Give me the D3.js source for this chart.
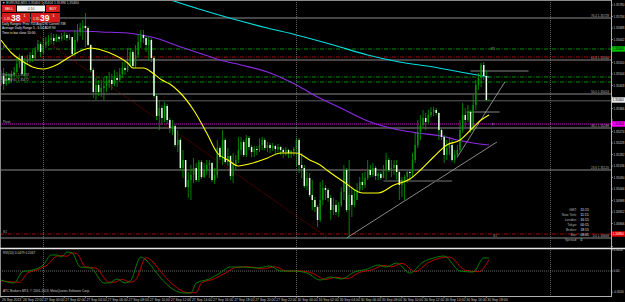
<!DOCTYPE html>
<html><head><meta charset="utf-8">
<script src="https://cdn.jsdelivr.net/npm/d3@7"></script>
<style>html,body{margin:0;padding:0;background:#000;overflow:hidden}svg{display:block}text{font-family:"Liberation Sans",Arial,sans-serif}</style>
</head><body><svg id="c" width="625" height="302"></svg>
<script>
// ---------- DATA (EURUSD M15, 26 Sep 20:00 -> 30 Sep 18:15) ----------
const firstOpen = 1.35480;
const closes = [1.35496,1.35464,1.35488,1.35480,1.35504,1.35512,1.35544,1.35576,1.35504,1.35552,
1.35560,1.35580,1.35568,1.35600,1.35624,1.35592,1.35620,1.35632,1.35640,1.35648,
1.35636,1.35652,1.35644,1.35656,1.35660,1.35648,1.35652,1.35584,1.35640,1.35672,
1.35688,1.35696,1.35688,1.35620,1.35520,1.35432,1.35460,1.35432,1.35448,1.35456,
1.35468,1.35480,1.35464,1.35488,1.35480,1.35504,1.35528,1.35520,1.35536,1.35592,
1.35536,1.35580,1.35632,1.35660,1.35648,1.35620,1.35640,1.35568,1.35416,1.35336,
1.35368,1.35328,1.35376,1.35320,1.35288,1.35296,1.35220,1.35240,1.35128,1.35160,
1.35052,1.35080,1.35100,1.35128,1.35080,1.35152,1.35092,1.35120,1.35140,1.35148,
1.35080,1.35100,1.35208,1.35172,1.35240,1.35152,1.35176,1.35096,1.35140,1.35160,
1.35200,1.35232,1.35180,1.35248,1.35212,1.35192,1.35204,1.35200,1.35220,1.35240,
1.35208,1.35220,1.35208,1.35216,1.35204,1.35212,1.35200,1.35192,1.35200,1.35188,
1.35196,1.35204,1.35240,1.35140,1.35128,1.35056,1.35088,1.35020,1.35000,1.34972,
1.34920,1.35000,1.35048,1.35040,1.35008,1.34960,1.34980,1.34952,1.34980,1.35032,
1.35120,1.34960,1.35020,1.34980,1.35000,1.35040,1.35072,1.35060,1.35088,1.35120,
1.35100,1.35128,1.35096,1.35104,1.35088,1.35120,1.35160,1.35120,1.35128,1.35140,
1.35112,1.35060,1.35080,1.35092,1.35112,1.35108,1.35160,1.35220,1.35272,1.35300,
1.35328,1.35312,1.35340,1.35352,1.35360,1.35348,1.35280,1.35252,1.35180,1.35208,
1.35220,1.35160,1.35180,1.35200,1.35280,1.35340,1.35320,1.35352,1.35280,1.35380,
1.35460,1.35488,1.35540,1.35496,1.35400,1.35400];
const highs = [1.35520,1.35528,1.35512,1.35504,1.35516,1.35532,1.35568,1.35584,1.35580,1.35568,
1.35580,1.35592,1.35600,1.35612,1.35640,1.35632,1.35648,1.35652,1.35660,1.35668,
1.35664,1.35664,1.35660,1.35668,1.35672,1.35668,1.35664,1.35652,1.35680,1.35704,
1.35708,1.35720,1.35748,1.35696,1.35624,1.35528,1.35488,1.35480,1.35480,1.35492,
1.35496,1.35512,1.35504,1.35520,1.35512,1.35528,1.35552,1.35560,1.35608,1.35608,
1.35600,1.35620,1.35664,1.35680,1.35680,1.35656,1.35652,1.35648,1.35576,1.35424,
1.35400,1.35380,1.35392,1.35384,1.35328,1.35320,1.35304,1.35280,1.35248,1.35200,
1.35160,1.35112,1.35140,1.35168,1.35148,1.35160,1.35160,1.35148,1.35160,1.35160,
1.35152,1.35128,1.35240,1.35216,1.35280,1.35248,1.35208,1.35180,1.35188,1.35180,
1.35252,1.35252,1.35240,1.35260,1.35256,1.35220,1.35216,1.35216,1.35248,1.35252,
1.35248,1.35232,1.35228,1.35228,1.35220,1.35224,1.35216,1.35208,1.35212,1.35204,
1.35200,1.35212,1.35248,1.35248,1.35188,1.35140,1.35112,1.35108,1.35080,1.35012,
1.34980,1.35072,1.35080,1.35060,1.35048,1.35020,1.35008,1.35000,1.34992,1.35052,
1.35140,1.35128,1.35160,1.35052,1.35040,1.35068,1.35092,1.35108,1.35112,1.35160,
1.35140,1.35148,1.35136,1.35112,1.35112,1.35140,1.35188,1.35168,1.35160,1.35160,
1.35160,1.35120,1.35092,1.35100,1.35120,1.35120,1.35188,1.35268,1.35320,1.35340,
1.35360,1.35348,1.35360,1.35372,1.35372,1.35368,1.35352,1.35288,1.35260,1.35240,
1.35252,1.35240,1.35200,1.35220,1.35320,1.35388,1.35368,1.35380,1.35360,1.35420,
1.35480,1.35508,1.35548,1.35552,1.35520,1.35404];
const lows = [1.35456,1.35440,1.35456,1.35464,1.35472,1.35492,1.35508,1.35528,1.35500,1.35496,
1.35540,1.35548,1.35552,1.35560,1.35592,1.35572,1.35584,1.35608,1.35616,1.35624,
1.35620,1.35632,1.35632,1.35636,1.35640,1.35636,1.35640,1.35576,1.35576,1.35632,
1.35656,1.35640,1.35612,1.35616,1.35512,1.35408,1.35400,1.35416,1.35412,1.35400,
1.35432,1.35448,1.35440,1.35456,1.35452,1.35472,1.35488,1.35500,1.35512,1.35536,
1.35528,1.35528,1.35568,1.35608,1.35628,1.35592,1.35560,1.35552,1.35408,1.35320,
1.35280,1.35300,1.35312,1.35304,1.35268,1.35260,1.35212,1.35192,1.35120,1.35088,
1.35048,1.35008,1.35000,1.35068,1.35072,1.35072,1.35084,1.35088,1.35100,1.35088,
1.35072,1.35064,1.35088,1.35160,1.35140,1.35144,1.35136,1.35080,1.35068,1.35120,
1.35148,1.35180,1.35172,1.35172,1.35200,1.35172,1.35172,1.35180,1.35192,1.35200,
1.35200,1.35192,1.35188,1.35196,1.35184,1.35192,1.35180,1.35168,1.35176,1.35168,
1.35168,1.35176,1.35132,1.35108,1.35088,1.35048,1.35040,1.35012,1.34960,1.34952,
1.34892,1.34912,1.34980,1.35000,1.34992,1.34920,1.34940,1.34940,1.34932,1.34972,
1.35000,1.34952,1.34848,1.34932,1.34972,1.35000,1.35028,1.35040,1.35048,1.35080,
1.35092,1.35092,1.35080,1.35080,1.35080,1.35088,1.35080,1.35112,1.35092,1.35100,
1.35080,1.35000,1.35012,1.35000,1.35068,1.35080,1.35088,1.35148,1.35208,1.35240,
1.35288,1.35280,1.35300,1.35332,1.35336,1.35340,1.35240,1.35240,1.35148,1.35160,
1.35180,1.35152,1.35148,1.35168,1.35192,1.35268,1.35292,1.35312,1.35268,1.35272,
1.35360,1.35440,1.35452,1.35480,1.35396,1.35396];

const timeLabelBars = [0,8,16,24,32,40,48,56,64,72,80,88,96,104,112,120,128,136,144,152,160,168,176,184];
const timeLabels = ["26 Sep 2013","26 Sep 22:00","27 Sep 00:00","27 Sep 02:00","27 Sep 04:00","27 Sep 06:00","27 Sep 08:00","27 Sep 10:00","27 Sep 12:00","27 Sep 14:00","27 Sep 16:00","27 Sep 18:00","27 Sep 20:00","27 Sep 22:00","30 Sep 00:00","30 Sep 02:00","30 Sep 04:00","30 Sep 06:00","30 Sep 08:00","30 Sep 10:00","30 Sep 12:00","30 Sep 14:00","30 Sep 16:00","30 Sep 18:00"];
const daySeparatorBars = [16,112,208];
const priceTicks = [1.35780,1.35734,1.35688,1.35642,1.35596,1.35550,1.35504,1.35458,1.35412,1.35366,1.35320,1.35274,1.35228,1.35182,1.35136,1.35090,1.35044,1.34998,1.34952,1.34906,1.34860,1.34814];

// moving averages (read at sampled bars)
const yellowBars = [0,4,8,12,16,21,26,31,34,38,43,48,50,54,58,61,64,68,73,78,82,86,90,94,101,106,112,117,121,124,130,137,143,149,155,159,164,169,174,178,182,185];
const yellowVals = [1.35640,1.35588,1.35556,1.35532,1.35524,1.35540,1.35572,1.35600,1.35608,1.35600,1.35580,1.35548,1.35528,1.35528,1.35504,1.35480,1.35464,1.35428,1.35360,1.35268,1.35188,1.35160,1.35136,1.35144,1.35168,1.35188,1.35188,1.35160,1.35140,1.35116,1.35072,1.35028,1.35028,1.35060,1.35084,1.35120,1.35172,1.35220,1.35240,1.35280,1.35320,1.35340];
const purpleBars = [21,30,38,48,57,61,64,75,83,91,101,112,120,128,139,151,158,167,173,179,185];
const purpleVals = [1.35676,1.35676,1.35672,1.35668,1.35652,1.35640,1.35628,1.35588,1.35560,1.35540,1.35512,1.35460,1.35412,1.35372,1.35316,1.35280,1.35268,1.35256,1.35240,1.35228,1.35220];
const cyanBars = [62,75,88,101,112,126,139,151,164,174,185];
const cyanVals = [1.35808,1.35764,1.35724,1.35688,1.35660,1.35620,1.35580,1.35552,1.35532,1.35512,1.35492];

// Fibonacci retracement
const fibLevels = [0.0,23.6,38.2,50.0,61.8,76.4];
const fibPrices = [1.34848,1.35120,1.35288,1.35424,1.35560,1.35728];
// pivot lines
const pivotNames = ["R1","MR","WR","WS","P","S1"];
const pivotPrices = [1.35604,1.35572,1.35492,1.35472,1.35304,1.34864];
// drawn trend lines [bar, price]
const trendUp1 = [[131,1.34848],[188,1.35232]];
const trendUp2 = [[173,1.35172],[191,1.35472]];
const trendDown = [[12,1.35672],[124,1.34848]];
const hSeg1 = [[178,1.35516],[200,1.35516]];
const hSeg2 = [[176.5,1.35352],[189,1.35352]];
const hSeg3 = [[145,1.35076],[171,1.35076]];

// RVI indicator
const rviBars = [0,5,8,12,16,19,21,23,25,27,30,34,39,41,44,47,49,53,55,59,64,69,72,74,79,83,87,92,97,102,106,111,116,121,125,129,134,139,143,146,150,155,160,164,168,174,179,183,185];
const rviVals = [-0.129,-0.171,-0.014,0.014,0.086,0.229,0.229,0.200,0.271,0.257,0.057,0.043,-0.171,-0.171,-0.114,-0.171,-0.143,0.200,0.157,-0.029,-0.229,-0.314,-0.314,-0.171,-0.114,-0.029,0.057,0.057,0.043,0.071,0.000,0.000,-0.029,-0.129,-0.086,-0.114,-0.014,0.029,0.086,0.057,0.114,-0.029,0.129,0.186,0.214,0.000,-0.014,0.186,0.186];
const sigBars = [0,2,7,10,14,18,21,23,25,27,29,32,36,41,43,46,49,51,55,57,61,66,71,74,76,81,85,89,94,99,104,108,113,118,123,127,131,136,141,145,148,152,157,162,166,170,176,181,185];
const sigVals = [-0.14,-0.15,-0.16,-0.03,0.02,0.10,0.21,0.22,0.21,0.26,0.24,0.06,0.04,-0.16,-0.16,-0.12,-0.16,-0.13,0.19,0.15,-0.03,-0.22,-0.31,-0.31,-0.17,-0.11,-0.03,0.05,0.06,0.03,0.06,0.00,0.00,-0.03,-0.12,-0.09,-0.11,-0.02,0.02,0.08,0.06,0.11,-0.01,0.12,0.18,0.20,0.01,-0.01,0.16];
const rviAxisVals = [0.3020,0,-0.3020];

// info panel
const infoLabels = ["GMT:","New York:","London:","Tokyo:","Broker:","Bar:","Spread:"];
const infoValues = ["15:15","11:15","16:15","00:15","18:15","08:05","0"];

// ---------- DRAW ----------
const svg = d3.select("#c");
svg.append("rect").attr("width",625).attr("height",302).attr("fill","#000");
const AX = 611, MAIN_B = 247, IND_T = 249, IND_B = 296;
const x = d3.scaleLinear().domain([0,185]).range([1,489]);
const y = d3.scaleLinear().domain([1.34812,1.35800]).range([247,0]);
const yi = d3.scaleLinear().domain([-0.3,0.3]).range([292,250]);

const defs = svg.append("defs");
defs.append("clipPath").attr("id","cm").append("rect").attr("x",0).attr("y",0).attr("width",AX).attr("height",MAIN_B);
defs.append("clipPath").attr("id","ci").append("rect").attr("x",0).attr("y",IND_T).attr("width",AX).attr("height",IND_B-IND_T);

const main = svg.append("g").attr("clip-path","url(#cm)");
const ind = svg.append("g").attr("clip-path","url(#ci)");

// vertical day separators
svg.selectAll(".sep").data(daySeparatorBars).join("line")
  .attr("x1",d=>Math.round(x(d))+0.5).attr("x2",d=>Math.round(x(d))+0.5).attr("y1",0).attr("y2",IND_B)
  .attr("stroke","#7a7a7a").attr("stroke-width",0.8).attr("stroke-dasharray","1,1");

// fib lines
main.selectAll(".fib").data(fibPrices).join("line")
  .attr("x1",0).attr("x2",AX).attr("y1",d=>y(d)).attr("y2",d=>y(d))
  .attr("stroke","#9a9a9a").attr("stroke-width",0.9);
main.selectAll(".fibt").data(fibPrices).join("text")
  .attr("x",609).attr("y",d=>y(d)-0.8).attr("text-anchor","end")
  .attr("font-size",3.1).attr("fill","#b8b8b8")
  .text((d,i)=>fibLevels[i].toFixed(1)+" "+d.toFixed(5));

// pivot lines
const pivStyle = {
  R1:{c:"#008c00",dash:"4,1.5,1,1.5"}, MR:{c:"#a80000",dash:"4,1.5,1,1.5"},
  WR:{c:"#008c00",dash:"4,1.5,1,1.5"}, WS:{c:"#008c00",dash:"4,1.5,1,1.5"},
  P:{c:"#d000d0",dash:"1,1"}, S1:{c:"#a80000",dash:"4,1.5,1,1.5"}};
main.selectAll(".piv").data(pivotPrices).join("line")
  .attr("x1",0).attr("x2",AX).attr("y1",d=>y(d)).attr("y2",d=>y(d))
  .attr("stroke",(d,i)=>pivStyle[pivotNames[i]].c).attr("stroke-width",1)
  .attr("stroke-dasharray",(d,i)=>pivStyle[pivotNames[i]].dash);

// bid line
const last = closes[closes.length-1];
main.append("line").attr("x1",0).attr("x2",AX).attr("y1",y(last)+0.8).attr("y2",y(last)+0.8)
  .attr("stroke","#6a6a6a").attr("stroke-width",0.9);

// trend lines
const seg = d3.line().x(d=>x(d[0])).y(d=>y(d[1]));
main.append("path").attr("d",seg(trendDown)).attr("stroke","#900000").attr("stroke-width",0.9).attr("stroke-dasharray","1,1.2").attr("fill","none");
[trendUp1,trendUp2,hSeg1,hSeg2].forEach(t=>main.append("path").attr("d",seg(t)).attr("stroke","#a8a8a8").attr("stroke-width",0.8).attr("fill","none"));
main.append("path").attr("d",seg(hSeg3)).attr("stroke","#505050").attr("stroke-width",1.3).attr("fill","none");

// moving averages
const ml = (bars)=>d3.line().x((d,i)=>x(bars[i])).y(d=>y(d)).curve(d3.curveMonotoneX);
main.append("path").attr("d",ml(cyanBars)(cyanVals)).attr("stroke","#00dede").attr("stroke-width",1.1).attr("fill","none");
main.append("path").attr("d",ml(purpleBars)(purpleVals)).attr("stroke","#8a2be2").attr("stroke-width",1.1).attr("fill","none");

// candles
const bars = closes.map((c,i)=>({i,o:i?closes[i-1]:firstOpen,c,h:highs[i],l:lows[i]}));
const cg = main.append("g");
cg.selectAll(".w").data(bars).join("line")
  .attr("x1",d=>x(d.i)).attr("x2",d=>x(d.i))
  .attr("y1",d=>y(Math.max(d.h,d.o,d.c))).attr("y2",d=>y(Math.min(d.l,d.o,d.c)))
  .attr("stroke","#00a000").attr("stroke-width",0.8);
cg.selectAll(".b").data(bars).join("rect")
  .attr("x",d=>x(d.i)-0.75).attr("width",1.5)
  .attr("y",d=>y(Math.max(d.o,d.c)))
  .attr("height",d=>Math.max(0.7,Math.abs(y(d.o)-y(d.c))))
  .attr("fill",d=>d.c<d.o?"#e6ffe6":"#009400");

// yellow MA on top
main.append("path").attr("d",ml(yellowBars)(yellowVals)).attr("stroke","#ffff00").attr("stroke-width",1.1).attr("fill","none");

// ---- text overlays main ----
const T = (g,xx,yy,s,fs,col,anchor)=>g.append("text").attr("x",xx).attr("y",yy).attr("font-size",fs).attr("fill",col).attr("text-anchor",anchor||"start").text(s);
T(svg,2,3.6,"\u25BC EURUSD,M15  1.35400 1.35404 1.35396 1.35400",3.3,"#d0d0d0");
// trade panel
const panel = svg.append("g");
panel.append("rect").attr("x",2).attr("y",5).attr("width",14).attr("height",7).attr("fill","#d21c1c");
panel.append("rect").attr("x",17).attr("y",5.5).attr("width",28).attr("height",6).attr("fill","#f4f4f4");
panel.append("rect").attr("x",46).attr("y",5).attr("width",14).attr("height",7).attr("fill","#d21c1c");
T(panel,9,10,"SELL",3.4,"#fff","middle");
T(panel,31,10,"0.10",3.4,"#333","middle");
T(panel,53,10,"BUY",3.4,"#fff","middle");
panel.append("rect").attr("x",2).attr("y",13).attr("width",28).attr("height",9.5).attr("fill","#d21c1c");
panel.append("rect").attr("x",31).attr("y",13).attr("width",29).attr("height",9.5).attr("fill","#d21c1c");
T(panel,4,20,"1.35",3.2,"#fff");
T(panel,11,21.3,"38",8.5,"#fff").attr("font-weight","bold");
T(panel,23.5,17,"1",3.6,"#fff");
T(panel,33,20,"1.35",3.2,"#fff");
T(panel,40,21.3,"39",8.5,"#fff").attr("font-weight","bold");
T(panel,52.5,17,"1",3.6,"#fff");
T(svg,2,25,"Daily Ranges: Prev 753  Avg5 96  Current 738",3.2,"#e0e0e0");
T(svg,2,29.3,"Average Daily Range 5 - 6.64  ADR 94",3.2,"#e0e0e0");
T(svg,2,33.6,"Time to bar close 10:00",3.2,"#e0e0e0");
T(svg,3,47.5,"R1",3.2,"#b0b0b0");
T(svg,2,76,"Weekly R1  1.35492",3.1,"#b0b0b0");
T(svg,2,81,"Weekly S1  1.35472",3.1,"#b0b0b0");
T(svg,3,122.5,"Pivot",3.2,"#b0b0b0");
T(svg,3,232.5,"S1",3.2,"#b0b0b0");
T(svg,491,50,"R1",3.2,"#a0a0a0");
T(svg,492,126,"P",3.2,"#a0a0a0");
T(svg,493,236.5,"S1",3.2,"#a0a0a0");

// info panel
infoLabels.forEach((s,i)=>{
  T(svg,577,211+i*5,s,3.4,"#b0b0b0","end");
  T(svg,580.5,211+i*5,infoValues[i],3.3,"#d8e8ff");
});

// ---- indicator pane ----
ind.append("line").attr("x1",0).attr("x2",AX).attr("y1",yi(0)).attr("y2",yi(0))
  .attr("stroke","#808080").attr("stroke-width",0.8).attr("stroke-dasharray","1,1");
const il = (b)=>d3.line().x((d,i)=>x(b[i])).y(d=>yi(d)).curve(d3.curveMonotoneX);
ind.append("path").attr("d",il(sigBars)(sigVals)).attr("stroke","#d00000").attr("stroke-width",0.9).attr("fill","none");
ind.append("path").attr("d",il(rviBars)(rviVals)).attr("stroke","#008c00").attr("stroke-width",0.9).attr("fill","none");
T(svg,3,253.5,"RVI(10) 0.0479 0.2067",3.2,"#c8c8c8");
T(svg,3,292,"ATC Brokers MT4, \u00A9 2001-2013, MetaQuotes Software Corp.",3.2,"#c8c8c8");

// ---- frames ----
svg.append("line").attr("x1",0.5).attr("x2",0.5).attr("y1",0).attr("y2",IND_B).attr("stroke","#8a8a8a").attr("stroke-width",1);
svg.append("line").attr("x1",0).attr("x2",AX).attr("y1",0.5).attr("y2",0.5).attr("stroke","#8a8a8a").attr("stroke-width",1);
svg.append("line").attr("x1",AX+0.5).attr("x2",AX+0.5).attr("y1",0).attr("y2",IND_B).attr("stroke","#b0b0b0").attr("stroke-width",1);
svg.append("line").attr("x1",0).attr("x2",625).attr("y1",248.5).attr("y2",248.5).attr("stroke","#e8e8e8").attr("stroke-width",1.3);
svg.append("line").attr("x1",0).attr("x2",AX+1).attr("y1",IND_B+0.5).attr("y2",IND_B+0.5).attr("stroke","#b0b0b0").attr("stroke-width",1);

// price axis
const tags = [
  {p:pivotPrices[0],bg:"#00c000",fg:"#000"},
  {p:last,bg:"#e8e8e8",fg:"#000"},
  {p:pivotPrices[4],bg:"#ff00ff",fg:"#000"},
  {p:pivotPrices[5],bg:"#e00000",fg:"#fff"}];
const pa = svg.append("g");
pa.selectAll(".pt").data(priceTicks).join("line")
  .attr("x1",AX).attr("x2",AX+2).attr("y1",d=>y(d)).attr("y2",d=>y(d)).attr("stroke","#b0b0b0").attr("stroke-width",0.7);
const visTicks = priceTicks.filter(p=>tags.every(t=>Math.abs(y(t.p)-y(p))>5.5) && y(p)<244);
pa.selectAll(".ptl").data(visTicks).join("text")
  .attr("x",AX+2.6).attr("y",d=>y(d)+1.1).attr("font-size",3.0).attr("fill","#d0d0d0")
  .text(d=>d.toFixed(5));
tags.forEach(t=>{
  pa.append("rect").attr("x",AX+1).attr("y",y(t.p)-2.7).attr("width",13.5).attr("height",5.4).attr("fill",t.bg);
  pa.append("text").attr("x",AX+1.8).attr("y",y(t.p)+1.1).attr("font-size",3.0).attr("fill",t.fg).text(t.p.toFixed(5));
});
// indicator axis
rviAxisVals.forEach(v=>{
  pa.append("line").attr("x1",AX).attr("x2",AX+2).attr("y1",yi(v)).attr("y2",yi(v)).attr("stroke","#b0b0b0").attr("stroke-width",0.7);
  pa.append("text").attr("x",AX+2.6).attr("y",yi(v)+1.1).attr("font-size",3.0).attr("fill","#d0d0d0").text(v===0?"0.00":v.toFixed(4));
});

// time axis
const ta = svg.append("g");
ta.selectAll(".tt").data(timeLabelBars).join("line")
  .attr("x1",d=>x(d)).attr("x2",d=>x(d)).attr("y1",IND_B).attr("y2",IND_B+2).attr("stroke","#b0b0b0").attr("stroke-width",0.7);
ta.selectAll(".tl").data(timeLabelBars).join("text")
  .attr("x",d=>x(d)+1).attr("y",301.3).attr("font-size",3.4).attr("fill","#c8c8c8")
  .text((d,i)=>timeLabels[i]);
</script></body></html>
